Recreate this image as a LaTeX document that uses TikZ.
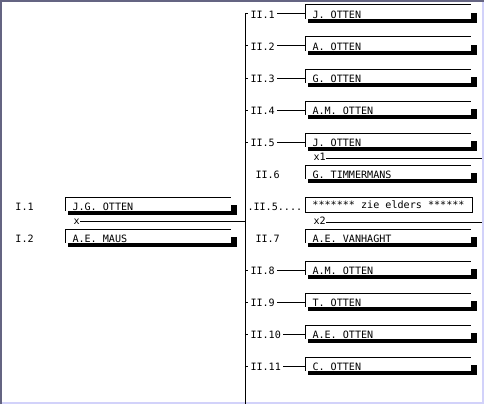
\documentclass[tikz,border=0pt]{standalone}
\usepackage{fontspec}
\setmonofont{DejaVu Sans Mono}
\usetikzlibrary{calc}
\definecolor{framedark}{RGB}{100,100,130}
\definecolor{framelight}{RGB}{210,210,250}
\tikzset{
  txt/.style={font=\ttfamily\fontsize{10.1}{12}\selectfont, inner sep=0pt, text height=7pt, text depth=0pt},
  lbl/.style={txt, inner xsep=2pt},
  boxframe/.style={minimum width=171pt, minimum height=17pt, inner sep=0pt, anchor=north west},
  elsebox/.style={txt, draw, line width=1pt, minimum width=167pt, minimum height=15pt},
}
\newcommand\personbox[4]{%
  \node[boxframe] (#1) at (#2,#3-9) {};
  \draw (#1.north west) -- ([yshift=-14pt]#1.north west);
  \draw (#1.north west) -- ([xshift=-6pt]#1.north east);
  \fill ([xshift=3pt,yshift=3.6pt]#1.south west) rectangle (#1.south east);
  \fill ([xshift=-6pt,yshift=10pt]#1.south east) rectangle (#1.south east);
  \node[txt, anchor=base west] (#1t) at ([xshift=7pt,yshift=4.2pt]#1.south west) {#4};
}
\begin{document}
\begin{tikzpicture}[x=1pt,y=-1pt,line width=1pt]
\useasboundingbox (0,0) rectangle (484,404);
\fill[white] (0,0) rectangle (484,404);
% window frame
\draw[framedark, line width=2pt] (1,404) -- (1,1) -- (484,1);
\draw[framelight, line width=2pt] (483,2) -- (483,403) -- (2,403);
% trunk
\coordinate (trunktop) at (245,14);
\coordinate (trunkbot) at (245,404);
\draw (trunktop) -- (trunkbot);
% parents
\node[txt, anchor=west] (i1) at (15,206.5) {I.1};
\node[txt, anchor=west] (i2) at (15,238.5) {I.2};
\personbox{p1}{65}{206}{J.G. OTTEN}
\personbox{p2}{65}{238}{A.E. MAUS}
\node[txt, anchor=west] (xm) at (73,221) {x};
\draw (xm.east) -- (xm.east -| trunktop);
% children
\foreach \i/\lab/\nm in {1/II.1/J. OTTEN,2/II.2/A. OTTEN,3/II.3/G. OTTEN,4/II.4/A.M. OTTEN,5/II.5/J. OTTEN,9/II.8/A.M. OTTEN,10/II.9/T. OTTEN,11/II.10/A.E. OTTEN,12/II.11/C. OTTEN}{
  \pgfmathsetmacro\cy{14+32*(\i-1)}
  \personbox{b\i}{305}{\cy}{\nm}
  \node[lbl, anchor=west] (l\i) at (248,\cy+0.8) {\lab};
  \draw (l\i.west -| trunktop) ++(0,-0.8) coordinate (s\i) -- (s\i -| l\i.west);
  \draw (s\i -| l\i.east) -- (s\i -| b\i.west);
}
% spouse of II.5
\node[txt, anchor=west] (x1) at (313,157) {x1};
\coordinate (x1end) at (482,158);
\draw (x1end -| x1.east) -- (x1end);
\personbox{b6}{305}{174}{G. TIMMERMANS}
\node[txt, anchor=west] (l6) at (255,174.5) {II.6};
% second marriage reference
\node[txt, anchor=west, inner xsep=1pt] (l7) at (246,206.5) {.II.5....};
\draw (l7.west -| trunktop) ++(0,-0.5) coordinate (s7) -- (s7 -| l7.west);
\node[elsebox] (b7) at (388.5,205) {******* zie elders ******};
\node[txt, anchor=west] (x2) at (313,221) {x2};
\coordinate (x2end) at (482,222);
\draw (x2end -| x2.east) -- (x2end);
\personbox{b8}{305}{238}{A.E. VANHAGHT}
\node[txt, anchor=west] (l8) at (255,238.5) {II.7};
\end{tikzpicture}
\end{document}
